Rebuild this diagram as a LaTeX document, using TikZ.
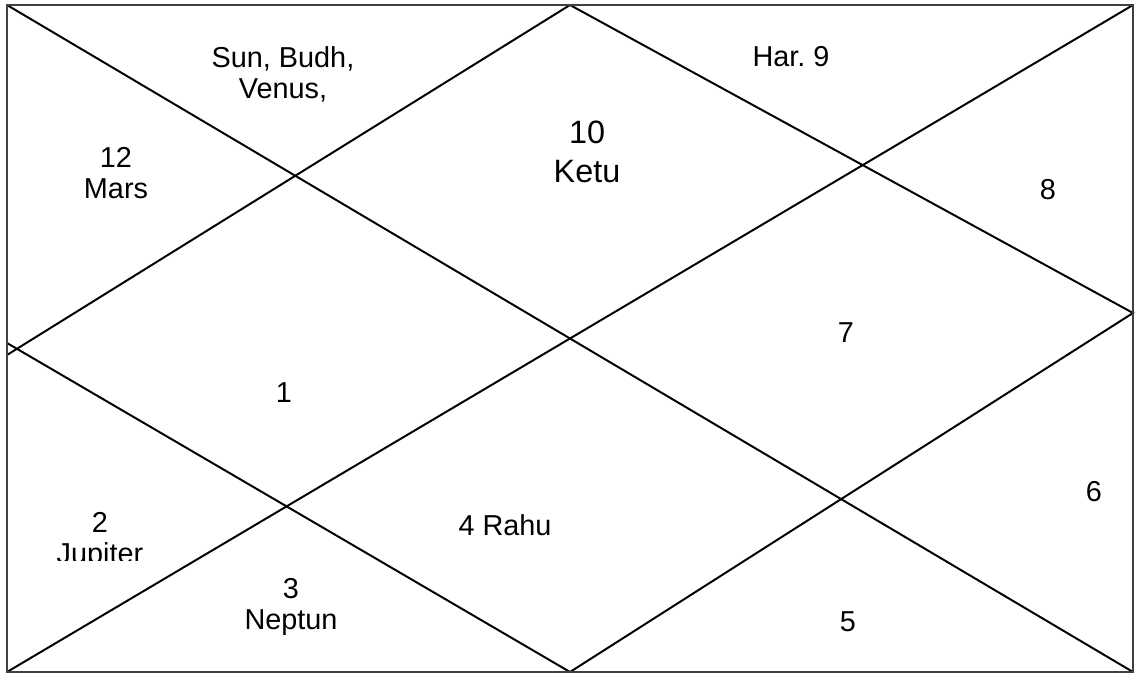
\documentclass[tikz,border=0pt]{standalone}
\usepackage{fontspec}
\setmainfont{Liberation Sans}
\usepackage{tikz}
\usetikzlibrary{positioning}
\tikzstyle{house} = [font=\fontsize{20.5}{22}\selectfont, align=center, inner sep=1pt]
\tikzstyle{bighouse} = [house, font=\fontsize{23}{27.6}\selectfont]
\tikzstyle{chartline} = [line width=1.4pt, draw=black]
\tikzstyle{frame} = [line width=1.6pt, draw=black!75]

\begin{document}
\begin{tikzpicture}[x=0.025cm, y=-0.025cm]
    \useasboundingbox (0,0) rectangle (1139,674);
    % chart corners
    \coordinate (tl) at (7,5);
    \coordinate (tr) at (1133,5);
    \coordinate (bl) at (7,672);
    \coordinate (br) at (1133,672);
    \coordinate (tm) at (570,5);
    \coordinate (bm) at (570,672);
    \coordinate (lmup) at (7,355);
    \coordinate (lmdn) at (7,343);
    \coordinate (rm) at (1133,313);
    \draw [chartline] (tl) -- (br);
    \draw [chartline] (tr) -- (bl);
    \draw [chartline] (tm) -- (lmup);
    \draw [chartline] (lmdn) -- (bm);
    \draw [chartline] (tm) -- (rm) -- (bm);
    \draw [frame] (tl) rectangle (br);
    % houses
    \node [house] (h11) at (283,74) {Sun, Budh,\\Venus,};
    \node [house] (h9) at (791,57) {Har.\ 9};
    \node [house] (h12) at (116,173) {12\\Mars};
    \node [bighouse] (h10) at (587,152) {10\\Ketu};
    \node [house] (h8) at (1048,190) {8};
    \node [house] (h7) at (846,333) {7};
    \node [house] (h1) at (284,393) {1};
    \node [house] (h6) at (1094,492) {6};
    \begin{scope}
        \clip (0,0) rectangle (300,561);
        \node [house] (h2) at (100,541) {2\\Jupiter};
    \end{scope}
    \node [house] (h4) at (505,525) {4 Rahu};
    \node [house] (h3) at (291,607) {3\\Neptun};
    \node [house] (h5) at (848,622) {5};
\end{tikzpicture}
\end{document}
